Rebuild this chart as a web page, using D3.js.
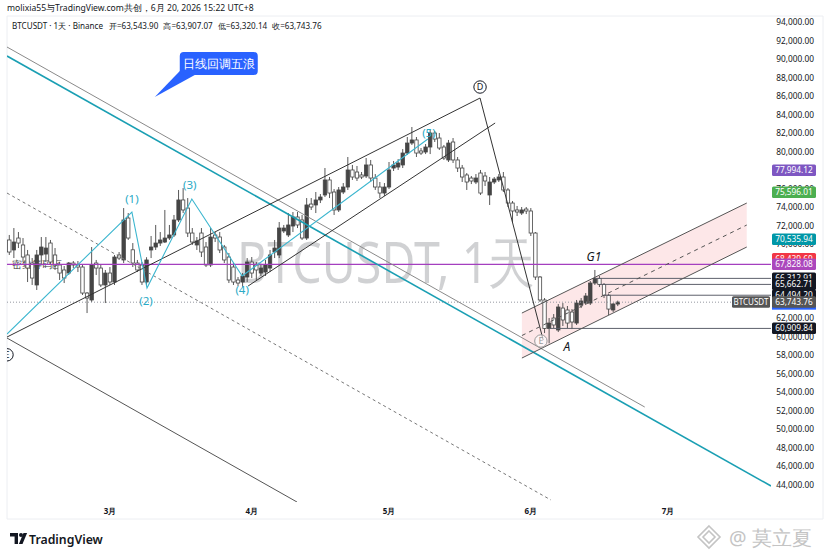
<!DOCTYPE html>
<html>
<head>
<meta charset="utf-8">
<script src="https://cdn.jsdelivr.net/npm/d3@7"></script>
<style>
  html, body { margin: 0; padding: 0; background: #fff; }
  svg { display: block; font-family: "Noto Sans", "Liberation Sans", Arial, sans-serif; }
</style>
</head>
<body>
<div id="chart"></div>
<script>
// daily candles, BTCUSDT Binance, 2026-02-07 .. 2026-06-20
var firstDay = "2026-02-07";
var lastDay = "2026-06-20";

var opens = [
  70460, 69380, 70670, 69920, 68840, 67970, 65600, 68840, 68940, 70130, 68840, 67760, 67220, 66890, 67970, 67760, 67540, 64730, 63980, 67970, 67430, 65600,
  66890, 65920, 68840, 68300, 72830, 69400, 67970, 67760, 65920, 69380, 69700, 70130, 70240, 70670, 71000, 72620, 74780, 73910, 71210, 69920, 71210, 69700, 67760, 71000, 70780, 69700, 68620, 67540, 66140, 65920, 66460,
  68080, 67760, 66890, 67000, 67430, 69160, 68840, 71430, 71000, 71970, 72940, 72620, 70670, 74340, 74240, 74780, 75320, 76940, 75640, 73700, 75640, 76180, 78020, 77800, 77480, 77370, 78560, 77150, 76180, 75530,
  76180, 78230, 78340, 78560, 79850, 80930, 81260, 80070, 79960, 80500, 82010, 81470, 80500, 79100, 81040, 79100, 78230, 77480, 77150, 76720, 77690, 77370, 75320, 76720, 76940, 77260, 75860, 74450, 73700, 73370, 73800,
  73590, 71210, 66460, 63980, 60910, 62030, 60740, 63110, 62900, 62680, 61490, 63440, 63650, 63650, 65810, 66312.91, 65662.71, 64494.20, 62900, 63543.90
];
var highs = [
  71000, 71750, 71320, 70670, 69380, 68510, 69380, 70780, 70780, 70460, 69590, 68080, 67650, 68080, 68190, 68190, 67760, 64840, 69700, 68300, 67760, 67220,
  67540, 68840, 69160, 73910, 73370, 70130, 68300, 68080, 68600, 70890, 72080, 71320, 73700, 72080, 73160, 75860, 76070, 74990, 71750, 70780, 71750, 70240, 71750, 71320, 71320, 69920, 69050, 67970, 66460, 66890, 68510,
  68620, 68080, 67760, 68300, 69380, 70460, 72400, 72080, 73370, 73480, 73480, 73160, 74990, 74990, 75640, 75420, 78230, 77260, 75960, 76180, 76610, 79420, 78560, 78450, 77800, 79310, 79100, 77580, 76720, 76610,
  78880, 78990, 79200, 80280, 81580, 82660, 81580, 80390, 80820, 82340, 82230, 82010, 80720, 81260, 81470, 79420, 78560, 77690, 77370, 77580, 78020, 77800, 77260, 77260, 77580, 77800, 76070, 74670, 74130, 74020, 74020,
  73910, 71320, 66570, 64190, 62030, 62460, 63540, 63650, 63330, 63000, 63980, 64190, 64730, 66030, 67220, 66570, 65810, 64620, 63650, 63907.07
];
var lows = [
  68840, 68510, 69590, 68080, 65920, 65600, 65060, 67760, 68080, 67760, 67220, 66140, 65810, 66680, 67430, 67000, 64520, 62570, 63760, 66680, 65380, 63650,
  65600, 65600, 68300, 67970, 70460, 67540, 67000, 65600, 65600, 68510, 69380, 69810, 70130, 70460, 70780, 72400, 73370, 70780, 69920, 69380, 68620, 67540, 67540, 70240, 69050, 67970, 65810, 65600, 65490, 65380, 65920,
  66350, 66140, 66570, 66570, 67000, 68510, 68510, 71210, 70780, 71320, 71750, 70460, 70460, 73700, 73370, 74450, 75100, 74990, 73160, 73480, 75420, 75860, 76940, 76830, 77040, 77150, 76720, 75860, 74990, 75210,
  75960, 77910, 78020, 78230, 79640, 80720, 79420, 79640, 79740, 79740, 81040, 80180, 79100, 78880, 78770, 77800, 76720, 75860, 76500, 76500, 75320, 76290, 74240, 76500, 76720, 75640, 74020, 72400, 73050, 73160, 73260,
  70890, 66140, 63760, 60410, 59300, 60950, 60520, 61170, 60950, 60840, 61280, 63110, 63440, 63440, 65600, 65380, 64190, 62360, 62680, 63320.14
];
var closes = [
  69160, 70240, 70130, 68620, 67430, 66350, 68840, 69700, 69590, 68080, 67760, 66890, 66350, 67970, 67760, 67540, 64730, 64190, 67760, 67430, 65600, 66890,
  65920, 68620, 68510, 72620, 70670, 67970, 67220, 65920, 68300, 69700, 70130, 70460, 70670, 71000, 72620, 74780, 73700, 71210, 70240, 70350, 69160, 67760, 70780, 70670, 69380, 68300, 66140, 65920, 65810, 66570, 68080,
  66890, 67220, 67430, 67760, 68840, 69590, 71750, 71750, 72080, 72940, 72080, 70670, 74240, 74020, 74780, 75100, 76940, 75530, 73700, 75860, 76180, 78020, 77260, 77150, 77260, 78560, 77150, 76180, 75530, 76180,
  78020, 78560, 78770, 79850, 80930, 81260, 79850, 79850, 80500, 82010, 81360, 80390, 79310, 80930, 79100, 78230, 77260, 76720, 76830, 77150, 75530, 76830, 76720, 77040, 77260, 75860, 74450, 73590, 73480, 73700, 73590,
  71210, 66460, 63980, 60909.84, 61490, 61280, 63220, 61820, 61490, 61600, 63650, 63870, 64410, 65810, 66312.91, 65662.71, 64494.20, 63000, 63543.90, 63743.76
];

var priceTicks = [44000, 46000, 48000, 50000, 52000, 54000, 56000, 58000, 60000, 62000, 64000, 66000, 68000,
  70000, 72000, 74000, 76000, 78000, 80000, 82000, 84000, 86000, 88000, 90000, 92000, 94000];
var monthTicks = ["2026-03-01", "2026-04-01", "2026-05-01", "2026-06-01", "2026-07-01"];
var monthLabels = ["3月", "4月", "5月", "6月", "7月"];

// right-axis price marks
var levelValues = [77994.12, 75596.01, 70535.94, 68439.69, 67828.08, 66312.91, 65662.71, 64494.20, 63743.76, 60909.84];
var levelColors = ["#7e57c2", "#4caf50", "#0097a7", "#f23645", "#ab47bc", "#131722", "#131722", "#131722", "#555555", "#131722"];

// horizontal rays: [price, day offset from 3/1]
var rays = [[66312.91, 106], [65662.71, 107], [64494.20, 108], [60909.84, 96]];
var zoneLevel = 67828.08;

// drawings, points as [day offset from 3/1, price]
var grayTop = [[-22.5, 91300], [116.9, 52420]];
var tealTrend = [[-22.5, 90330], [144.5, 43890]];
var dashedLine = [[-22.5, 75530], [96.4, 42380]];
var grayLow = [[-22.5, 59870], [40.9, 42160]];
var wedgeUpper = [[-22.5, 59980], [80.9, 85790]];
var dLeg = [[80.9, 85790], [94.7, 59660]];
var wedgeLower = [[30.2, 65490], [84.2, 83090]];
var wavePoints = [[-22.5, 60300], [4.8, 73480], [8.1, 65270], [17.9, 74880], [28.9, 66570], [69.5, 81360]];
var waveLabels = ["", "(1)", "(2)", "(3)", "(4)", "(5)"];
var channelUpper = [[90.05, 62570], [139.2, 74450]];
var channelLower = [[90.05, 57710], [139.2, 69700]];

var W = 829, H = 556;
var pane = { left: 7, right: 771, top: 16, bottom: 502 };

var parse = d3.timeParse("%Y-%m-%d");
var mar1 = parse("2026-03-01");
function at(d) { return d3.timeMinute.offset(mar1, Math.round(d * 1440)); }

var dates = d3.timeDay.range(parse(firstDay), d3.timeDay.offset(parse(lastDay), 1));
var candles = dates.map(function(dt, i) {
  return { date: dt, o: opens[i], h: highs[i], l: lows[i], c: closes[i] };
});

var x = d3.scaleTime()
  .domain([at(-22.5), at(144.5)])
  .range([pane.left, pane.right]);
var y = d3.scaleLinear()
  .domain([44000, 94000])
  .range([485, 22]);

var svg = d3.select("#chart").append("svg")
  .attr("width", W)
  .attr("height", H);

svg.append("rect").attr("width", W).attr("height", H).attr("fill", "#fff");

// header
svg.append("text")
  .attr("x", 7).attr("y", 11)
  .attr("font-size", 8.6).attr("fill", "#131722")
  .text("molixia55与TradingView.com共创，6月 20, 2026 15:22 UTC+8");

var fmt = d3.format(",.2f");
var last = candles[candles.length - 1];
var legend = svg.append("text")
  .attr("x", 12).attr("y", 29)
  .attr("font-size", 8.1).attr("fill", "#131722");
legend.append("tspan").text("BTCUSDT · 1天 · Binance");
legend.append("tspan").attr("dx", 6).text("开=" + fmt(last.o));
legend.append("tspan").attr("dx", 5).text("高=" + fmt(last.h));
legend.append("tspan").attr("dx", 5).text("低=" + fmt(last.l));
legend.append("tspan").attr("dx", 5).text("收=" + fmt(last.c));

// frame
var frame = svg.append("g").attr("stroke", "#eceef2").attr("fill", "none");
frame.append("line").attr("x1", pane.left).attr("x2", 823).attr("y1", pane.top).attr("y2", pane.top);
frame.append("line").attr("x1", pane.left).attr("x2", pane.left).attr("y1", pane.top).attr("y2", 519);
frame.append("line").attr("x1", 823).attr("x2", 823).attr("y1", pane.top).attr("y2", 519);
frame.append("line").attr("x1", pane.left).attr("x2", 823).attr("y1", 519).attr("y2", 519);

svg.append("clipPath").attr("id", "pane-clip")
  .append("rect")
  .attr("x", pane.left).attr("y", pane.top)
  .attr("width", pane.right - pane.left).attr("height", pane.bottom - pane.top);

var chart = svg.append("g").attr("clip-path", "url(#pane-clip)");

// symbol watermark
chart.append("text")
  .attr("x", 237).attr("y", 283)
  .attr("font-size", 56)
  .attr("textLength", 298)
  .attr("lengthAdjust", "spacingAndGlyphs")
  .attr("fill", "rgba(19,23,34,0.2)")
  .text("BTCUSDT, 1天");

var line = d3.line()
  .x(function(p) { return x(at(p[0])); })
  .y(function(p) { return y(p[1]); });

// channel fill (under candles)
chart.append("path")
  .attr("d", line(channelUpper.concat(channelLower.slice().reverse())) + "Z")
  .attr("fill", "rgba(242,54,69,0.12)");

// zone label
chart.append("text")
  .attr("x", 12).attr("y", 268)
  .attr("font-size", 10).attr("fill", "#444")
  .text("密集筹码区");

// candles
var candleColor = "#454545";
chart.append("g").selectAll("line")
  .data(candles)
  .join("line")
  .attr("x1", function(d) { return x(d.date); })
  .attr("x2", function(d) { return x(d.date); })
  .attr("y1", function(d) { return y(d.h); })
  .attr("y2", function(d) { return y(d.l); })
  .attr("stroke", candleColor)
  .attr("stroke-width", 0.9);

chart.append("g").selectAll("rect")
  .data(candles)
  .join("rect")
  .attr("x", function(d) { return x(d.date) - 1.7; })
  .attr("width", 3.4)
  .attr("y", function(d) { return y(Math.max(d.o, d.c)); })
  .attr("height", function(d) { return Math.max(1, Math.abs(y(d.o) - y(d.c))); })
  .attr("fill", function(d) { return d.c >= d.o ? candleColor : "#fff"; })
  .attr("stroke", candleColor)
  .attr("stroke-width", 0.8);

// horizontal levels
chart.append("line")
  .attr("x1", pane.left).attr("x2", pane.right)
  .attr("y1", y(zoneLevel)).attr("y2", y(zoneLevel))
  .attr("stroke", "#a43fbf").attr("stroke-width", 1.2);

chart.append("line")
  .attr("x1", pane.left).attr("x2", pane.right)
  .attr("y1", y(last.c)).attr("y2", y(last.c))
  .attr("stroke", "#9598a1").attr("stroke-width", 1)
  .attr("stroke-dasharray", "1,2");

chart.append("g").selectAll("line")
  .data(rays)
  .join("line")
  .attr("x1", function(d) { return x(at(d[1])); })
  .attr("x2", pane.right)
  .attr("y1", function(d) { return y(d[0]); })
  .attr("y2", function(d) { return y(d[0]); })
  .attr("stroke", "#5d606b").attr("stroke-width", 1);

// trend lines
function drawLine(pts, color, width, dash) {
  var p = chart.append("path")
    .attr("d", line(pts))
    .attr("fill", "none")
    .attr("stroke", color)
    .attr("stroke-width", width);
  if (dash) p.attr("stroke-dasharray", dash);
  return p;
}
drawLine(grayTop, "#8a8a8a", 1);
drawLine(tealTrend, "#1a9fb3", 1.6);
drawLine(dashedLine, "#777", 1, "3,3");
drawLine(grayLow, "#555", 1);
drawLine(wedgeUpper, "#333", 1);
drawLine(dLeg, "#333", 1);
drawLine(wedgeLower, "#333", 1);
drawLine(wavePoints, "#3cb6cf", 1.1);
drawLine(channelUpper, "#555", 1);
drawLine(channelLower, "#555", 1);
drawLine([[channelUpper[0][0], (channelUpper[0][1] + channelLower[0][1]) / 2],
          [channelUpper[1][0], (channelUpper[1][1] + channelLower[1][1]) / 2]], "#555", 1, "4,4");

// wave labels
var labelOffsets = [[0, 0], [0, -9], [-1, 17], [-2, -10], [0, 18], [1, -2]];
chart.append("g").selectAll("text")
  .data(wavePoints)
  .join("text")
  .attr("x", function(d, i) { return x(at(d[0])) + labelOffsets[i][0]; })
  .attr("y", function(d, i) { return y(d[1]) + labelOffsets[i][1]; })
  .attr("text-anchor", "middle")
  .attr("font-size", 11.5)
  .attr("fill", "#2aaac6")
  .text(function(d, i) { return waveLabels[i]; });

// circled wave letters
function circled(dx, price, letter, color, dy) {
  var cx = x(at(dx)), cy = y(price) + (dy || 0);
  chart.append("circle").attr("cx", cx).attr("cy", cy).attr("r", 6.2)
    .attr("fill", "#fff").attr("fill-opacity", 0.6).attr("stroke", color).attr("stroke-width", 1);
  chart.append("text").attr("x", cx).attr("y", cy + 3.3)
    .attr("text-anchor", "middle").attr("font-size", 9).attr("fill", color).text(letter);
}
circled(dLeg[0][0], dLeg[0][1], "D", "#131722", -11);
circled(94.2, 59550, "E", "#999", 0);
circled(-22.5, 58060, "E", "#131722", 0);

chart.append("text").attr("x", x(at(99.9))).attr("y", y(58900) + 4)
  .attr("text-anchor", "middle").attr("font-size", 12).attr("font-style", "italic")
  .attr("fill", "#131722").text("A");
chart.append("text").attr("x", x(at(105.8))).attr("y", y(68620) + 4)
  .attr("text-anchor", "middle").attr("font-size", 12).attr("font-style", "italic")
  .attr("fill", "#131722").text("G1");

// callout
var tipX = x(at(9.8)), tipY = y(85900);
var callout = chart.append("g");
callout.append("path")
  .attr("d", "M" + tipX + "," + tipY + " L" + (tipX + 27) + "," + (tipY - 28) + " L" + (tipX + 40) + "," + (tipY - 22) + " Z")
  .attr("fill", "#2962ff");
callout.append("rect")
  .attr("x", tipX + 25).attr("y", tipY - 45)
  .attr("width", 78).attr("height", 23).attr("rx", 4)
  .attr("fill", "#2962ff");
callout.append("text")
  .attr("x", tipX + 64).attr("y", tipY - 29)
  .attr("text-anchor", "middle").attr("font-size", 12).attr("fill", "#fff")
  .text("日线回调五浪");

// price axis
var axisG = svg.append("g");
axisG.selectAll("text")
  .data(priceTicks)
  .join("text")
  .attr("x", 814)
  .attr("y", function(d) { return y(d) + 3; })
  .attr("text-anchor", "end")
  .attr("font-size", 8.3)
  .attr("fill", "#131722")
  .text(function(d) { return fmt(d); });

// blue mark hidden under the last-price label
axisG.append("rect")
  .attr("x", 772).attr("y", y(last.c) - 4).attr("width", 44).attr("height", 11.5)
  .attr("fill", "#2962ff");

var levelG = axisG.selectAll("g.level")
  .data(levelValues)
  .join("g")
  .attr("class", "level");
levelG.append("rect")
  .attr("x", 772)
  .attr("y", function(d) { return y(d) - 5.8; })
  .attr("width", 44).attr("height", 11.5).attr("rx", 1.5)
  .attr("fill", function(d, i) { return levelColors[i]; });
levelG.append("text")
  .attr("x", 794)
  .attr("y", function(d) { return y(d) + 3; })
  .attr("text-anchor", "middle")
  .attr("font-size", 8.3)
  .attr("fill", "#fff")
  .text(function(d) { return fmt(d); });

axisG.append("rect")
  .attr("x", 732).attr("y", y(last.c) - 5.8).attr("width", 38).attr("height", 11.5).attr("rx", 1.5)
  .attr("fill", "#555555");
axisG.append("text")
  .attr("x", 751).attr("y", y(last.c) + 3)
  .attr("text-anchor", "middle").attr("font-size", 8).attr("fill", "#fff")
  .text("BTCUSDT");

// time axis
svg.append("g").selectAll("text")
  .data(monthTicks)
  .join("text")
  .attr("x", function(d) { return x(parse(d)); })
  .attr("y", 514)
  .attr("text-anchor", "middle")
  .attr("font-size", 8)
  .attr("font-weight", "bold")
  .attr("fill", "#131722")
  .text(function(d, i) { return monthLabels[i]; });

// footer: TradingView logo
var logo = svg.append("g").attr("fill", "#131722");
logo.append("path").attr("d", "M10,533 h8 v11 h-3.4 v-7.6 h-4.6 Z");
logo.append("circle").attr("cx", 21).attr("cy", 535).attr("r", 2);
logo.append("path").attr("d", "M23.5,533 h3.6 l-4.6,11 h-3.6 Z");
logo.append("text")
  .attr("x", 29).attr("y", 544)
  .attr("font-size", 12.3).attr("font-weight", "600")
  .text("TradingView");

// footer: author watermark
var mark = svg.append("g").attr("stroke", "#c4c4c4").attr("fill", "none").attr("stroke-width", 1.6);
mark.append("path").attr("d", "M709,526 L720,537 L709,548 L698,537 Z");
mark.append("path").attr("d", "M709,531 L715,537 L709,543 L703,537 Z");
svg.append("text")
  .attr("x", 729).attr("y", 545)
  .attr("font-size", 19.5).attr("fill", "#c4c4c4")
  .text("@ 莫立夏");
</script>
</body>
</html>
